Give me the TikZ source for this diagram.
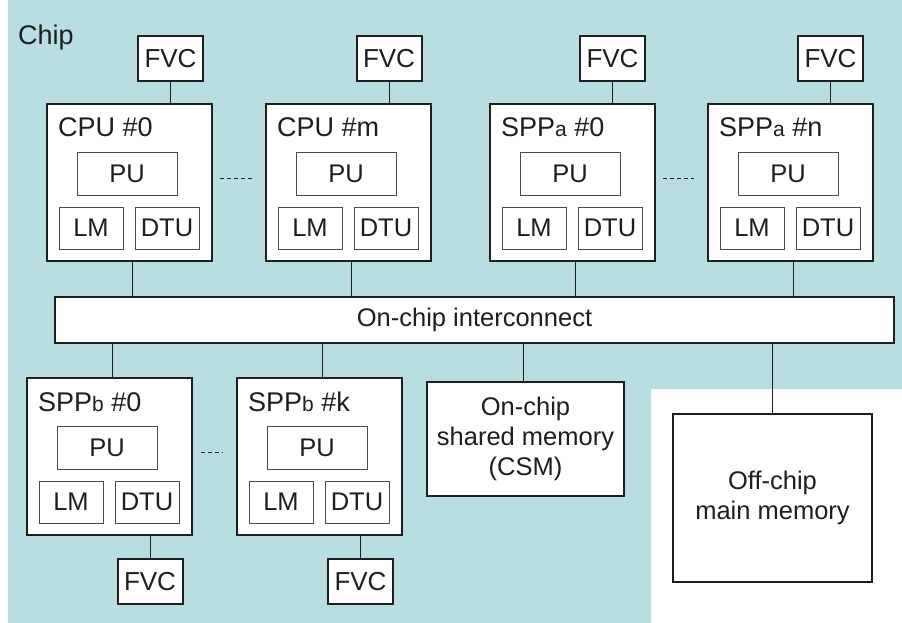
\documentclass[tikz,border=0pt]{standalone}
\usepackage{fontspec}
\setmainfont{Liberation Sans}
\definecolor{chipbg}{RGB}{185,222,225}
\definecolor{ink}{RGB}{30,30,30}
\tikzset{
  pebox/.style={draw=ink, line width=2pt, fill=white, minimum width=165pt, minimum height=157pt, inner sep=0pt, anchor=north west},
  inbox/.style={draw=ink!80, line width=0.9pt, fill=white, inner sep=0pt, font=\fontsize{25.5}{27}\selectfont, text=ink},
  ttl/.style={inner sep=0pt, font=\fontsize{27}{29}\selectfont, text=ink, anchor=base west},
  fvcbox/.style={draw=ink, line width=2pt, fill=white, minimum width=65pt, minimum height=45pt, inner sep=0pt, font=\fontsize{26}{27}\selectfont, text=ink},
  wire/.style={draw=ink, line width=1pt},
  gap/.style={draw=ink, line width=0.9pt, dash pattern=on 4pt off 3pt},
  membox/.style={draw=ink, line width=2pt, fill=white, inner sep=0pt, align=center, font=\fontsize{25.5}{30}\selectfont, text=ink},
}
\newcommand\subl[1]{{\fontsize{21}{21}\selectfont #1}}
% #1 name, #2 left, #3 top, #4 title
\newcommand\PElem[4]{%
  \node[pebox] (#1) at (#2,#3) {};
  \node[ttl] (#1t) at ({#2+12},{#3+34}) {#4};
  \node[inbox, minimum width=100pt, minimum height=43pt] (#1pu) at ({#2+81},{#3+70.5}) {PU};
  \node[inbox, minimum width=64pt, minimum height=42pt] (#1lm) at ({#2+45},{#3+125}) {LM};
  \node[inbox, minimum width=64pt, minimum height=42pt] (#1dtu) at ({#2+121},{#3+125}) {DTU};
  \coordinate (#1p) at ({#2+86},{#3});
}
\begin{document}
\begin{tikzpicture}[x=1pt,y=-1pt]
\useasboundingbox (0,0) rectangle (902,623);
\fill[chipbg] (8,0) -- (902,0) -- (902,389) -- (651,389) -- (651,623) -- (8,623) -- cycle;
\node[ttl] (chip) at (18,45) {Chip};

\PElem{cpu0}{46}{103}{CPU \#0}
\PElem{cpum}{265}{103}{CPU \#m}
\PElem{sppa0}{489}{103}{SPP\subl{a} \#0}
\PElem{sppan}{707}{103}{SPP\subl{a} \#n}
\PElem{sppb0}{26}{377}{SPP\subl{b} \#0}
\PElem{sppbk}{236}{377}{SPP\subl{b} \#k}

\node[fvcbox] (fvc1) at (170.5,58.5) {FVC};
\node[fvcbox] (fvc2) at (389,58.5) {FVC};
\node[fvcbox] (fvc3) at (612.5,58.5) {FVC};
\node[fvcbox] (fvc4) at (830.5,58.5) {FVC};
\node[fvcbox] (fvc5) at (150,581.5) {FVC};
\node[fvcbox] (fvc6) at (360.5,581.5) {FVC};

\node[membox, minimum width=839pt, minimum height=46pt] (ic) at (474.5,320) {On-chip interconnect};
\node[membox, minimum width=197pt, minimum height=114pt] (csm) at (525.5,439) {On-chip\\shared memory\\(CSM)};
\node[membox, minimum width=199pt, minimum height=168pt] (mm) at (772.5,498) {Off-chip\\main memory};

% FVC links
\draw[wire] (fvc1.south) -- (fvc1.south |- cpu0.north);
\draw[wire] (fvc2.south) -- (fvc2.south |- cpum.north);
\draw[wire] (fvc3.south) -- (fvc3.south |- sppa0.north);
\draw[wire] (fvc4.south) -- (fvc4.south |- sppan.north);
\draw[wire] (fvc5.north) -- (fvc5.north |- sppb0.south);
\draw[wire] (fvc6.north) -- (fvc6.north |- sppbk.south);

% interconnect links
\draw[wire] (cpu0p |- cpu0.south) -- (cpu0p |- ic.north);
\draw[wire] (cpump |- cpum.south) -- (cpump |- ic.north);
\draw[wire] (sppa0p |- sppa0.south) -- (sppa0p |- ic.north);
\draw[wire] (sppanp |- sppan.south) -- (sppanp |- ic.north);
\draw[wire] (sppb0p |- ic.south) -- (sppb0p);
\draw[wire] (sppbkp |- ic.south) -- (sppbkp);
\draw[wire] (ic.south -| 523,0) -- (csm.north -| 523,0);
\draw[wire] (ic.south -| mm.north) -- (mm.north);

% ellipses between elements
\draw[gap] ([xshift=7pt,yshift=4.5pt]cpu0.east) -- ([xshift=-13pt,yshift=4.5pt]cpum.west);
\draw[gap] ([xshift=7pt,yshift=4.5pt]sppa0.east) -- ([xshift=-13pt,yshift=4.5pt]sppan.west);
\draw[gap] ([xshift=8pt,yshift=4.5pt]sppb0.east) -- ([xshift=-13pt,yshift=4.5pt]sppbk.west);
\end{tikzpicture}
\end{document}
